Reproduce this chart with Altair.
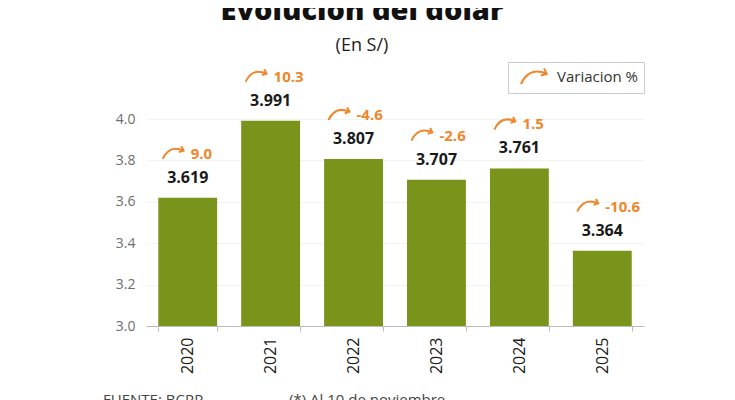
import altair as alt
import pandas as pd

years = ["2020", "2021", "2022", "2023", "2024", "2025"]
values = [3.619, 3.991, 3.807, 3.707, 3.761, 3.364]
variations = ["9.0", "10.3", "-4.6", "-2.6", "1.5", "-10.6"]
value_labels = ["3.619", "3.991", "3.807", "3.707", "3.761", "3.364"]
y_ticks = [3.0, 3.2, 3.4, 3.6, 3.8, 4.0]
legend_label = "Variacion %"
source_note = "FUENTE: BCRP"
date_note = "(*) Al 10 de noviembre"

df = pd.DataFrame({
    "year": years,
    "value": values,
    "var": variations,
    "vlabel": value_labels,
    "leg": [legend_label] * len(years),
})

GREEN = "#7a931b"
ORANGE = "#f0862c"
FONT = "Open Sans"
ARROW = "M-1,0.55 C-0.6,-0.35 0.1,-0.55 0.9,-0.2 M0.7,-0.6 L0.9,-0.2 L0.47,-0.07"
ARROW_LEG = "M-1.6,0.88 C-0.96,-0.56 0.16,-0.88 1.44,-0.32 M1.12,-0.96 L1.44,-0.32 L0.75,-0.11"

x = alt.X("year:N", title=None, sort=years,
          scale=alt.Scale(paddingInner=0.29, paddingOuter=0.148),
          axis=alt.Axis(labelAngle=270, labelFontSize=16, labelFont=FONT, labelColor="#1a1a1a",
                        domainColor="#bbbbbb", tickColor="#bbbbbb", tickSize=5, tickBand="extent",
                        labelPadding=6, grid=False))
y = alt.Y("value:Q", title=None,
          scale=alt.Scale(domain=[3.0, 4.0], zero=False, nice=False),
          axis=alt.Axis(values=y_ticks, format=".1f", labelFontSize=14, labelFont=FONT,
                        labelColor="#6e6e6e", domain=False, ticks=False, tickSize=0,
                        labelPadding=11, gridColor="#f2f2f2"))

base = alt.Chart(df)

bars = base.mark_bar(color=GREEN, clip=True).encode(x=x, y=y)

vals = base.mark_text(dy=-20, fontSize=16, fontWeight="bold", font=FONT, color="#1a1a1a").encode(
    x=x, y=y, text="vlabel:N")

vars_ = base.mark_text(dy=-44, dx=3, align="left", fontSize=15, fontWeight="bold", font=FONT,
                       color=ORANGE).encode(x=x, y=y, text="var:N")

arrows = base.mark_point(shape=ARROW, size=484, filled=False, strokeWidth=2, xOffset=-14,
                         yOffset=-45, opacity=1).encode(
    x=x, y=y,
    color=alt.Color("leg:N", scale=alt.Scale(range=[ORANGE]),
                    legend=alt.Legend(title=None, orient="none", legendX=362, legendY=-57,
                                      symbolType=ARROW_LEG, symbolSize=289, symbolStrokeWidth=2,
                                      symbolFillColor="transparent", symbolStrokeColor=ORANGE,
                                      symbolOffset=12, labelOffset=13,
                                      labelFontSize=15, labelFont=FONT, labelColor="#333333",
                                      strokeColor="#cccccc", padding=5,
                                      fillColor="white")))

notes = pd.DataFrame({"note": [source_note]})
foot1 = alt.Chart(notes).mark_text(align="left", baseline="alphabetic", fontSize=15, font=FONT,
                                   color="#444444").encode(
    x=alt.value(-43), y=alt.value(286), text=alt.value(source_note))
foot2 = alt.Chart(notes).mark_text(align="left", baseline="alphabetic", fontSize=15, font=FONT,
                                   color="#444444").encode(
    x=alt.value(143), y=alt.value(286), text=alt.value(date_note))

chart = alt.layer(bars, vals, vars_, arrows, foot1, foot2).properties(
    width=498, height=207,
    autosize=alt.AutoSizeParams(type="none"),
    padding={"left": 138, "top": 111, "right": 83, "bottom": 74},
    title=alt.Title("Evolucion del dolar", subtitle="(En S/)", fontSize=29, font=FONT,
                    fontWeight=800, color="#111111", subtitleFontSize=18, subtitleFont=FONT,
                    subtitleColor="#222222", anchor="middle", dx=-33, offset=7,
                    subtitlePadding=11),
).configure_view(stroke=None)

chart.save("out.html", embed_options={"renderer": "svg", "actions": False})
